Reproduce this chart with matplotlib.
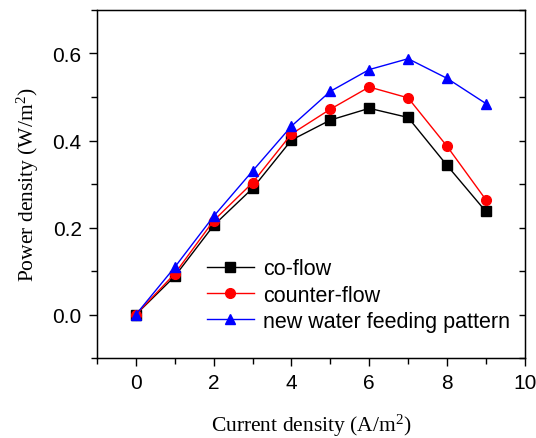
import matplotlib
matplotlib.use('Agg')
import matplotlib.pyplot as plt
from matplotlib.ticker import MultipleLocator

plt.rcParams['font.family'] = 'Liberation Sans'
plt.rcParams['mathtext.fontset'] = 'custom'
plt.rcParams['mathtext.rm'] = 'Liberation Serif'

# ----------------------------- dados -----------------------------
current = [0, 1, 2, 3, 4, 5, 6, 7, 8, 9]
co_flow = [0.0, 0.088, 0.205, 0.290, 0.401, 0.447, 0.474, 0.453, 0.343, 0.237]
counter_flow = [0.0, 0.094, 0.216, 0.303, 0.415, 0.472, 0.523, 0.498, 0.387, 0.264]
new_pattern = [0.0, 0.109, 0.226, 0.330, 0.433, 0.513, 0.563, 0.588, 0.543, 0.485]

labels = ['co-flow', 'counter-flow', 'new water feeding pattern']

# ----------------------------- grafico -----------------------------
fig = plt.figure(figsize=(5.36, 4.39), dpi=100)
ax = fig.add_axes([0.181, 0.182, 0.798, 0.793])

ax.plot(current, co_flow, color='black', marker='s', markersize=6.5, lw=1, label=labels[0])
ax.plot(current, counter_flow, color='red', marker='o', markersize=7, lw=1, label=labels[1])
ax.plot(current, new_pattern, color='blue', marker='^', markersize=7.5, lw=1, label=labels[2])

ax.set_xlim(-1, 10)
ax.set_ylim(-0.1, 0.7)
ax.xaxis.set_major_locator(MultipleLocator(2))
ax.xaxis.set_minor_locator(MultipleLocator(1))
ax.yaxis.set_major_locator(MultipleLocator(0.2))
ax.yaxis.set_minor_locator(MultipleLocator(0.1))
ax.yaxis.set_major_formatter(plt.FormatStrFormatter('%.1f'))

ax.tick_params(which='both', direction='out', top=False, right=False, labelsize=15, pad=5)
ax.tick_params(which='major', length=6, width=1)
ax.tick_params(which='minor', length=4, width=1)
for s in ax.spines.values():
    s.set_linewidth(1)

# ticks internos no eixo direito
ax_r = ax.twinx()
ax_r.set_ylim(-0.1, 0.7)
ax_r.yaxis.set_major_locator(MultipleLocator(0.1))
ax_r.tick_params(axis='y', direction='in', length=4, width=1, labelright=False)

ax.set_xlabel('Current density (A/m$\\mathregular{^2}$)', fontsize=15.5,
              family='Liberation Serif', labelpad=14)
ax.set_ylabel('Power density (W/m$\\mathregular{^2}$)', fontsize=15.5,
              family='Liberation Serif', labelpad=8)

ax.legend(loc='lower right', frameon=False, fontsize=15.5, handlelength=2.2,
          handletextpad=0.4, labelspacing=0.25, borderaxespad=0.3,
          bbox_to_anchor=(1.0, 0.032))

fig.savefig('out.png', dpi=100)
